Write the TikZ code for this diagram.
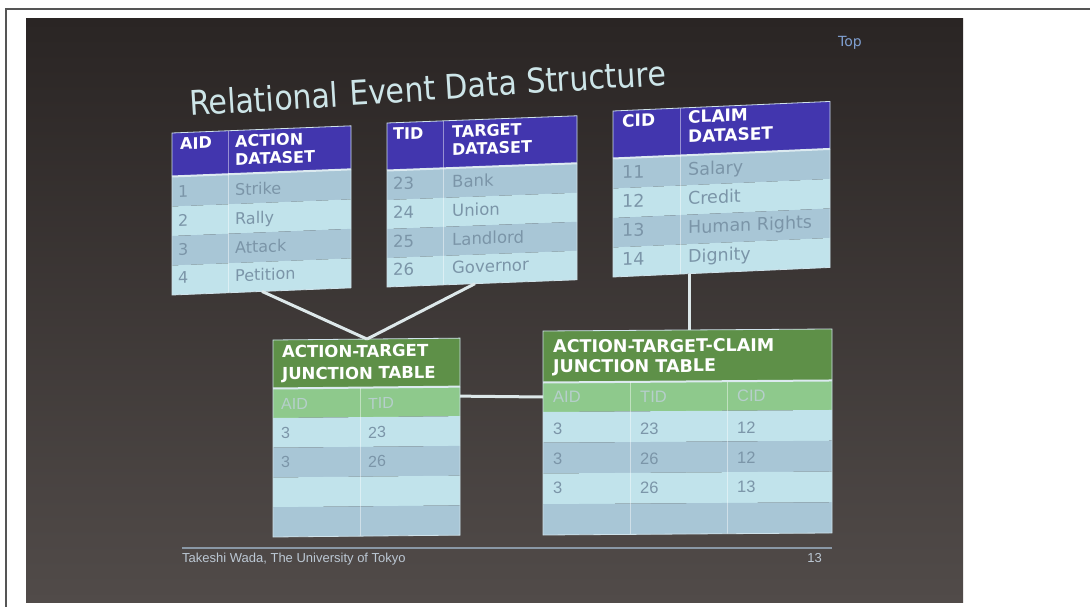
\documentclass[tikz,border=0pt]{standalone}
\usepackage{fontspec}
\usepackage{graphicx}
\setmainfont{DejaVu Sans}
\newfontfamily\jfont{Liberation Sans}
\definecolor{framec}{HTML}{555555}
\definecolor{slidetop}{HTML}{2A2524}
\definecolor{slidebot}{HTML}{514B49}
\definecolor{titlec}{HTML}{CDE5E8}
\definecolor{hdrblue}{HTML}{4236AE}
\definecolor{hdrgreen}{HTML}{5E9048}
\definecolor{colgreen}{HTML}{8EC98C}
\definecolor{rowdark}{HTML}{A8C6D6}
\definecolor{rowlight}{HTML}{C1E3EB}
\definecolor{celltext}{HTML}{7B95A8}
\definecolor{colhtext}{HTML}{B6CFCB}
\definecolor{sepc}{HTML}{DCEAF0}
\definecolor{borderc}{HTML}{CFE2EA}
\definecolor{connc}{HTML}{DDE8EA}
\definecolor{footc}{HTML}{BCC8D4}
\definecolor{footlinec}{HTML}{8A98A6}
\definecolor{topc}{HTML}{7F9FD0}
\tikzset{
  conn/.style={draw=connc, line width=3pt},
  titleword/.style={font={\fontsize{34}{34}\selectfont}, text=titlec, anchor=base west, inner sep=0pt, rotate=3.5, text depth=0pt},
  hdr/.style={font={\fontsize{#1}{#1}\selectfont\bfseries}, text=white, anchor=base west, inner sep=0pt},
  hdrtwo/.style 2 args={font={\fontsize{#1}{#2}\selectfont\bfseries}, text=white, anchor=north west, inner sep=0pt, align=left},
  cell/.style={font={\fontsize{#1}{#1}\selectfont}, text=celltext, anchor=base west, inner sep=0pt},
  jcell/.style={font={\jfont\fontsize{#1}{#1}\selectfont}, text=celltext, anchor=base west, inner sep=0pt},
  jhead/.style={font={\jfont\fontsize{#1}{#1}\selectfont}, text=colhtext, anchor=base west, inner sep=0pt},
  sepline/.style={draw=sepc, line width=2pt},
  colline/.style={draw=white, draw opacity=0.45, line width=1pt},
  tblborder/.style={draw=borderc, line width=0.8pt},
  foot/.style={font={\jfont\fontsize{13}{13}\selectfont}, text=footc, inner sep=0pt},
}
\begin{document}
\begin{tikzpicture}[x=1pt,y=-1pt]
\useasboundingbox (0,0) rectangle (1090,607);
\fill[white] (0,0) rectangle (1090,607);
\draw[framec, line width=1.5pt] (6,607) -- (6,9) -- (1090,9);
\shade[top color=slidetop, bottom color=slidebot] (26,19) rectangle (963,602);

% title (one node per word along a slightly rising baseline)
\node[titleword] (title-1) at (190,116) {\scalebox{0.885}[1]{Relational}};
\node[titleword] (title-2) at (350,105.5) {\scalebox{0.885}[1]{Event}};
\node[titleword] (title-3) at (445.6,99.2) {\scalebox{0.885}[1]{Data}};
\node[titleword] (title-4) at (526.8,93.8) {\scalebox{0.885}[1]{Structure}};
\node[font={\fontsize{14}{14}\selectfont}, text=topc, anchor=base west, inner sep=0pt] (top) at (838,47) {Top};

% ACTION DATASET
\begin{scope}[shift={(172,133)}, yslant=0.04, transform shape]
\fill[hdrblue] (0,0) rectangle (179,43);
\fill[rowdark] (0,44) rectangle (179,73.5);
\fill[rowlight] (0,73.5) rectangle (179,103);
\fill[rowdark] (0,103) rectangle (179,132.5);
\fill[rowlight] (0,132.5) rectangle (179,162);
\draw[sepline] (0,43.5) -- (179,43.5);
\draw[colline] (56,0) -- (56,162);
\draw[tblborder] (0,0) rectangle (179,162);
\node[hdr=16] (a-h1) at (8,17) {AID};
\node[hdrtwo={16}{18}] (a-h2) at (63,4.8) {ACTION\\DATASET};
\node[cell=16] (a-n1) at (6,65) {1};  \node[cell=16] (a-v1) at (63,65) {Strike};
\node[cell=16] (a-n2) at (6,94) {2};  \node[cell=16] (a-v2) at (63,94) {Rally};
\node[cell=16] (a-n3) at (6,123) {3}; \node[cell=16] (a-v3) at (63,123) {Attack};
\node[cell=16] (a-n4) at (6,151) {4}; \node[cell=16] (a-v4) at (63,151) {Petition};
\coordinate (act-out) at (90,162);
\end{scope}

% TARGET DATASET
\begin{scope}[shift={(387,123)}, yslant=0.038, transform shape]
\fill[hdrblue] (0,0) rectangle (190,47);
\fill[rowdark] (0,48) rectangle (190,77);
\fill[rowlight] (0,77) rectangle (190,106);
\fill[rowdark] (0,106) rectangle (190,135);
\fill[rowlight] (0,135) rectangle (190,164);
\draw[sepline] (0,47.5) -- (190,47.5);
\draw[colline] (56,0) -- (56,164);
\draw[tblborder] (0,0) rectangle (190,164);
\node[hdr=16] (t-h1) at (6,17) {TID};
\node[hdrtwo={16}{18}] (t-h2) at (65,4.8) {TARGET\\DATASET};
\node[cell=16.5] (t-n1) at (6,67) {23};  \node[cell=16.5] (t-v1) at (65,67) {Bank};
\node[cell=16.5] (t-n2) at (6,96) {24};  \node[cell=16.5] (t-v2) at (65,96) {Union};
\node[cell=16.5] (t-n3) at (6,125) {25}; \node[cell=16.5] (t-v3) at (65,125) {Landlord};
\node[cell=16.5] (t-n4) at (6,153) {26}; \node[cell=16.5] (t-v4) at (65,153) {Governor};
\coordinate (tgt-out) at (88,164);
\end{scope}

% CLAIM DATASET
\begin{scope}[shift={(613,111)}, yslant=0.044, transform shape]
\fill[hdrblue] (0,0) rectangle (217,47);
\fill[rowdark] (0,48) rectangle (217,77.5);
\fill[rowlight] (0,77.5) rectangle (217,107);
\fill[rowdark] (0,107) rectangle (217,136.5);
\fill[rowlight] (0,136.5) rectangle (217,166);
\draw[sepline] (0,47.5) -- (217,47.5);
\draw[colline] (67,0) -- (67,166);
\draw[tblborder] (0,0) rectangle (217,166);
\node[hdr=17] (c-h1) at (9,16.5) {CID};
\node[hdrtwo={17}{19.5}] (c-h2) at (75,2.8) {CLAIM\\DATASET};
\node[cell=17.5] (c-n1) at (9,68) {11};  \node[cell=17.5] (c-v1) at (75,68) {Salary};
\node[cell=17.5] (c-n2) at (9,97) {12};  \node[cell=17.5] (c-v2) at (75,97) {Credit};
\node[cell=17.5] (c-n3) at (9,126) {13}; \node[cell=17.5] (c-v3) at (75,126) {Human Rights};
\node[cell=17.5] (c-n4) at (9,155) {14}; \node[cell=17.5] (c-v4) at (75,155) {Dignity};
\coordinate (clm-out) at (76,166);
\end{scope}

% ACTION-TARGET JUNCTION TABLE
\begin{scope}[shift={(273,340)}, yslant=0.01, transform shape]
\fill[hdrgreen] (0,0) rectangle (187,48);
\fill[colgreen] (0,49) rectangle (187,78);
\fill[rowlight] (0,78) rectangle (187,107.75);
\fill[rowdark] (0,107.75) rectangle (187,137.5);
\fill[rowlight] (0,137.5) rectangle (187,167.25);
\fill[rowdark] (0,167.25) rectangle (187,197);
\draw[sepline] (0,48.5) -- (187,48.5);
\draw[colline] (87,49) -- (87,197);
\draw[tblborder] (0,0) rectangle (187,197);
\node[hdr=16.5] (j-h1) at (9,18) {ACTION-TARGET};
\node[hdr=16.5] (j-h2) at (9,40) {JUNCTION TABLE};
\node[jhead=16] (j-c1) at (8,70) {AID};
\node[jhead=16] (j-c2) at (95,70) {TID};
\node[jcell=16] (j-a1) at (8,99) {3}; \node[jcell=16] (j-b1) at (95,99) {23};
\node[jcell=16] (j-a2) at (8,128) {3}; \node[jcell=16] (j-b2) at (95,128) {26};
\coordinate (at-in) at (94,0);
\coordinate (at-out) at (187,58);
\end{scope}

% ACTION-TARGET-CLAIM JUNCTION TABLE
\begin{scope}[shift={(543,331)}, yslant=0.007, transform shape]
\fill[hdrgreen] (0,0) rectangle (289,51);
\fill[colgreen] (0,52) rectangle (289,81);
\fill[rowlight] (0,81) rectangle (289,111.75);
\fill[rowdark] (0,111.75) rectangle (289,142.5);
\fill[rowlight] (0,142.5) rectangle (289,173.25);
\fill[rowdark] (0,173.25) rectangle (289,204);
\draw[sepline] (0,51.5) -- (289,51.5);
\draw[colline] (87,52) -- (87,204);
\draw[colline] (184,52) -- (184,204);
\draw[tblborder] (0,0) rectangle (289,204);
\node[hdr=17.5] (k-h1) at (10,22) {ACTION-TARGET-CLAIM};
\node[hdr=17.5] (k-h2) at (10,42) {JUNCTION TABLE};
\node[jhead=16.5] (k-c1) at (10,72) {AID};
\node[jhead=16.5] (k-c2) at (97,72) {TID};
\node[jhead=16.5] (k-c3) at (194,72) {CID};
\node[jcell=16.5] (k-a1) at (10,104) {3}; \node[jcell=16.5] (k-b1) at (97,104) {23}; \node[jcell=16.5] (k-d1) at (194,104) {12};
\node[jcell=16.5] (k-a2) at (10,134) {3}; \node[jcell=16.5] (k-b2) at (97,134) {26}; \node[jcell=16.5] (k-d2) at (194,134) {12};
\node[jcell=16.5] (k-a3) at (10,163) {3}; \node[jcell=16.5] (k-b3) at (97,163) {26}; \node[jcell=16.5] (k-d3) at (194,163) {13};
\coordinate (atc-in) at (0,66);
\coordinate (atc-top) at (146,0);
\end{scope}

% connectors
\draw[conn] (act-out) -- (at-in);
\draw[conn] (tgt-out) -- (at-in);
\draw[conn] (clm-out) -- (atc-top);
\draw[conn] (at-out) -- (atc-in);

% footer
\draw[footlinec, line width=1.5pt] (182,548) -- (832,548);
\node[foot, anchor=base west] (foottext) at (182,562) {Takeshi Wada, The University of Tokyo};
\node[foot, anchor=base east] (pagenum) at (822,562) {13};
\end{tikzpicture}
\end{document}
